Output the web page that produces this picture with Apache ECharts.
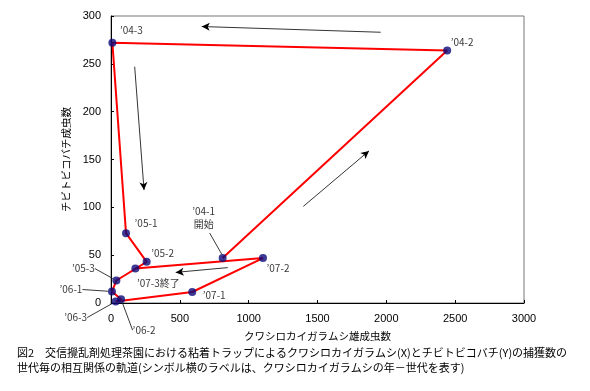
<!DOCTYPE html>
<html>
<head>
<meta charset="utf-8">
<script src="https://cdn.jsdelivr.net/npm/echarts@6/dist/echarts.min.js"></script>
<style>html,body{margin:0;padding:0;background:#fff}#c{width:590px;height:391px}</style>
</head>
<body>
<div id="c"></div>
<script>
// ---- data ----
const pointLabels = ["’04-1\n開始", "’04-2", "’04-3", "’05-1", "’05-2", "’05-3", "’06-1", "’06-2", "’06-3", "’07-1", "’07-2", "’07-3終了"];
const xValues = [811, 2442, 10, 109, 259, 39, 7, 73, 34, 590, 1104, 177];   // クワシロカイガラムシ雄成虫数
const yValues = [47, 264, 272, 73, 43, 23.5, 12, 4, 1.5, 11.5, 47, 36];      // チビトビコバチ成虫数
const xTickValues = [0, 500, 1000, 1500, 2000, 2500, 3000];
const yTickValues = [0, 50, 100, 150, 200, 250, 300];
const arrowFrom = [[1959, 283], [172, 247], [1397, 101], [848, 37]];
const arrowTo   = [[659, 289], [240, 118], [1874, 159], [470, 32]];
const xTitle = "クワシロカイガラムシ雄成虫数";
const yTitle = "チビトビコバチ成虫数";
const caption1 = "図2　交信攪乱剤処理茶園における粘着トラップによるクワシロカイガラムシ(X)とチビトビコバチ(Y)の捕獲数の";
const caption2 = "世代毎の相互関係の軌道(シンボル横のラベルは、クワシロカイガラムシの年－世代を表す)";

// ---- label placement (style) ----
const labelShift = [[-19,-40],[15,-8],[19,-13],[20,-10],[16,-9],[-33,-12],[-41,-2],[23,31],[-40,16],[22,3],[15,10],[23,15]];
const withLeader = [false,false,false,false,false,true,true,true,true,false,false,false];

const points = xValues.map((x, i) => [x, yValues[i]]);
const chart = echarts.init(document.getElementById('c'), null, {renderer: 'canvas'});
const JP = '"Noto Sans CJK JP", "Noto Sans", sans-serif';
const LAT = '"Liberation Sans", Arial, sans-serif';

chart.setOption({
  animation: false,
  backgroundColor: '#fff',
  grid: {left: 111, right: 66, top: 16, bottom: 88, show: true, borderColor: '#777', borderWidth: 1},
  xAxis: {
    type: 'value', min: xTickValues[0], max: xTickValues[xTickValues.length-1], interval: 500,
    name: xTitle, nameLocation: 'middle', nameGap: 28,
    nameTextStyle: {fontFamily: JP, fontSize: 10.5, color: '#000'},
    axisLine: {lineStyle: {color: '#000', width: 1}},
    axisTick: {inside: true, length: 3, lineStyle: {color: '#000'}},
    axisLabel: {fontFamily: LAT, fontSize: 11, color: '#000', margin: 10, formatter: v => String(v)},
    splitLine: {show: false}
  },
  yAxis: {
    type: 'value', min: yTickValues[0], max: yTickValues[yTickValues.length-1], interval: 50,
    name: yTitle, nameLocation: 'middle', nameGap: 33, nameRotate: 90,
    nameTextStyle: {fontFamily: JP, fontSize: 10.5, color: '#000'},
    axisLine: {lineStyle: {color: '#000', width: 1}},
    axisTick: {inside: true, length: 3, lineStyle: {color: '#000'}},
    axisLabel: {fontFamily: LAT, fontSize: 11, color: '#000', margin: 10, formatter: v => String(v)},
    splitLine: {show: false}
  },
  series: [
    {
      type: 'line', data: points, showSymbol: false, symbol: 'none',
      lineStyle: {color: '#ff0000', width: 2}, z: 2,
      markLine: {
        silent: true, symbol: ['none', 'arrow'], symbolSize: [6, 8],
        label: {show: false},
        lineStyle: {color: '#000', width: 0.8, type: 'solid'},
        data: arrowFrom.map((f, i) => [{coord: f}, {coord: arrowTo[i]}])
      }
    },
    {
      type: 'scatter', data: points.map((p, i) => ({
        value: p, name: pointLabels[i],
        labelLine: {show: withLeader[i]}
      })),
      symbol: 'circle', symbolSize: 8, z: 3,
      itemStyle: {color: '#0a0a7a'},
      label: {
        show: true, position: 'inside', formatter: p => p.name,
        fontFamily: JP, fontSize: 10, color: '#000', lineHeight: 13, align: 'center'
      },
      labelLine: {show: false, lineStyle: {color: '#222', width: 0.9}, smooth: false},
      labelLayout: function (params) {
        const s = labelShift[params.dataIndex];
        return {dx: s[0], dy: s[1]};
      }
    }
  ],
  graphic: [
    {type: 'text', left: 17, top: 345, style: {text: caption1 + '\n' + caption2, font: '11px ' + JP, fill: '#000', lineHeight: 15}}
  ]
});

// leader line for the start label ('04-1 開始), anchored to the point through the axis scales
const p0 = chart.convertToPixel({seriesIndex: 1}, points[0]);
const c0 = [p0[0] + labelShift[0][0], p0[1] + labelShift[0][1]];
chart.setOption({
  graphic: [
    {type: 'text', left: 17, top: 345, style: {text: caption1 + '\n' + caption2, font: '11px ' + JP, fill: '#000', lineHeight: 15}},
    {type: 'line', silent: true, z: 5,
     shape: {x1: c0[0] + 6, y1: c0[1] + 15, x2: p0[0] - 1, y2: p0[1] - 4},
     style: {stroke: '#222', lineWidth: 0.9}}
  ]
});
</script>
</body>
</html>
